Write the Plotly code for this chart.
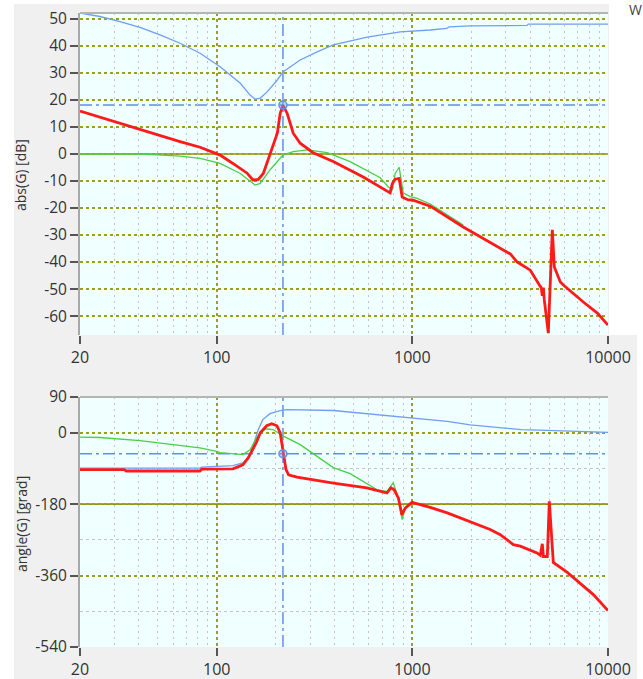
import plotly.graph_objects as go

# ---------------- data ----------------
# magnitude plot (dB)
f_mag_blue = [20, 25.3, 32, 40.5, 51.3, 64.9, 82.2, 104, 132, 148, 157, 167, 181, 204, 218, 267, 326, 394, 588, 867,
              1234, 1500, 1543, 1976, 3850, 3914, 10000]
mag_blue = [52.2, 50.9, 49.0, 46.9, 44.1, 41.0, 37.3, 32.3, 26.2, 21.8, 20.3, 20.7, 23.0, 27.4, 30.4, 34.8, 37.8, 40.4,
            43.3, 45.2, 45.9, 46.5, 47.1, 47.4, 47.6, 48.1, 48.1]

f_mag_red = [20, 25.3, 32, 40.5, 51.3, 64.9, 82.2, 104, 121, 143, 153, 163, 173, 187, 204, 211, 218, 229, 246, 267,
             311, 394, 561, 770, 789, 817, 856, 887, 952, 1000, 1234, 1820, 2224, 3167, 3438, 4007, 4508, 4560, 4615,
             4670, 4725, 4953, 5193, 5316, 5706, 5910, 7481, 8821, 10000]
mag_red = [15.9, 13.6, 11.4, 9.1, 6.8, 4.6, 2.5, -0.4, -3.5, -7.1, -9.6, -9.4, -7.2, 0.2, 7.7, 15.1, 18.1, 15.1, 7.7,
           4.0, 0.5, -2.8, -8.5, -14.4, -11.0, -9.3, -9.0, -15.9, -17.0, -17.0, -19.3, -27.0, -30.7, -37.0, -40.0,
           -43.0, -49.0, -49.5, -52.5, -49.5, -54.0, -66.3, -28.1, -41.8, -47.4, -48.5, -54.8, -58.9, -63.3]

f_mag_green = [20, 30, 40, 49.6, 65, 82.2, 104, 132, 148, 157, 167, 187, 218, 246, 290, 367, 481, 685, 752, 789, 817,
               856, 877, 898, 975, 1059, 1234, 1508, 1820]
mag_green = [0, 0, 0, -0.3, -0.8, -1.6, -3.5, -7.2, -10.2, -11.5, -10.9, -5.9, -0.4, 0.9, 1.5, 0.5, -2.8, -8.8,
             -12.1, -13.3, -7.2, -4.9, -9.6, -14.4, -15.8, -16.4, -18.5, -22.6, -26.3]

# phase plot (grad)
f_ph_blue = [20, 82, 84, 121, 136, 145, 153, 163, 172, 187, 211, 229, 394, 588, 685, 1000, 1234, 1508, 1976, 2814,
             3610, 4896, 7100, 10000]
ph_blue = [-89, -89, -86.5, -83, -76, -64, -34.5, 7.5, 33, 48, 55.5, 58, 56, 48, 45, 37, 33, 28.6, 20, 11.8, 7.6,
           5.9, 2.5, 0.8]

f_ph_red = [20, 33.6, 34.5, 82, 84, 121, 136, 145, 159, 167, 180, 191, 203, 211, 215, 221, 226, 233, 257, 395, 585,
            741, 776, 807, 849, 884, 919, 995, 1234, 1508, 2047, 2500, 2814, 3280, 3561, 4335, 4508, 4615, 4680,
            4896, 5011, 5254, 6194, 8414, 10000]
ph_red = [-93, -93, -96.5, -96.5, -92, -91, -81, -63, -26, 0, 17.6, 22.7, 17.6, 0, -26, -68, -93, -106, -112, -127,
          -139, -152, -139, -144, -165, -207, -190, -175.5, -188, -202, -228, -244, -257, -282, -286, -303, -309,
          -280, -312, -312, -173, -327, -352, -408, -448]

f_ph_green = [20, 25.3, 40.5, 82, 100, 104, 136, 148, 161, 177, 194, 218, 267, 394, 481, 661, 744, 798, 837, 887,
              919, 998, 1234, 1508]
ph_green = [-11, -12, -20, -38, -47, -50, -55, -43, -10, 10, 8, -8, -30, -88, -103, -144, -148, -126, -156, -219,
            -189, -176, -188, -202]

# cursor
cursor_f = 218
cursor_mag = 18.1
cursor_ph = -53

x_ticks = [20, 100, 1000, 10000]
x_ticktext = ["20", "100", "1000", "10000"]
x_minor = [30, 40, 50, 60, 70, 80, 90, 200, 300, 400, 500, 600, 700, 800, 900,
           2000, 3000, 4000, 5000, 6000, 7000, 8000, 9000]
mag_ticks = [50, 40, 30, 20, 10, 0, -10, -20, -30, -40, -50, -60]
mag_ticktext = ["50", "40", "30", "20", "10", "0", "-10", "-20", "-30", "-40", "-50", "-60"]
ph_ticks = [90, 0, -180, -360, -540]
ph_ticktext = ["90", "0", "-180", "-360", "-540"]
ph_minor = [-90, -270, -450]

# ---------------- style ----------------
BLUE = "#6f9ff0"
RED = "#ff1a1a"
GREEN = "#48d048"
OLIVE = "#9e9e1e"
OLIVE_SOLID = "#8f8f14"
CURSOR = "#5f8fea"
GRAYGRID = "#c4c4c4"
FONT = "Open Sans"

fig = go.Figure()

def add_curves(f_b, b, f_g, g, f_r, r, xa, ya):
    fig.add_trace(go.Scatter(x=f_b, y=b, mode="lines", line=dict(color=BLUE, width=1.3),
                             xaxis=xa, yaxis=ya, showlegend=False, hoverinfo="skip"))
    fig.add_trace(go.Scatter(x=f_g, y=g, mode="lines", line=dict(color=GREEN, width=1.3),
                             xaxis=xa, yaxis=ya, showlegend=False, hoverinfo="skip"))
    fig.add_trace(go.Scatter(x=f_r, y=r, mode="lines", line=dict(color=RED, width=2.8),
                             xaxis=xa, yaxis=ya, showlegend=False, hoverinfo="skip"))

add_curves(f_mag_blue, mag_blue, f_mag_green, mag_green, f_mag_red, mag_red, "x", "y")
add_curves(f_ph_blue, ph_blue, f_ph_green, ph_green, f_ph_red, ph_red, "x2", "y2")

# cursor markers
for xa, ya, yv in (("x", "y", cursor_mag), ("x2", "y2", cursor_ph)):
    fig.add_trace(go.Scatter(x=[cursor_f], y=[yv], mode="markers",
                             marker=dict(symbol="circle", size=8, color="rgba(120,160,240,0.45)",
                                         line=dict(color=CURSOR, width=1.5)),
                             xaxis=xa, yaxis=ya, showlegend=False, hoverinfo="skip"))

shapes = []
# solid olive reference lines
shapes.append(dict(type="line", xref="x domain", yref="y", x0=0, x1=1, y0=0, y1=0,
                   line=dict(color=OLIVE_SOLID, width=1.6), layer="below"))
shapes.append(dict(type="line", xref="x2 domain", yref="y2", x0=0, x1=1, y0=-180, y1=-180,
                   line=dict(color=OLIVE_SOLID, width=1.6), layer="below"))
# cursor lines
dd = "12px,4px,3px,4px"
shapes.append(dict(type="line", xref="x domain", yref="y", x0=0, x1=1, y0=cursor_mag, y1=cursor_mag,
                   line=dict(color=CURSOR, width=1.5, dash=dd), layer="below"))
shapes.append(dict(type="line", xref="x", yref="y domain", x0=cursor_f, x1=cursor_f, y0=0, y1=1,
                   line=dict(color=CURSOR, width=1.5, dash=dd), layer="below"))
shapes.append(dict(type="line", xref="x2 domain", yref="y2", x0=0, x1=1, y0=cursor_ph, y1=cursor_ph,
                   line=dict(color=CURSOR, width=1.5, dash=dd), layer="below"))
shapes.append(dict(type="line", xref="x2", yref="y2 domain", x0=cursor_f, x1=cursor_f, y0=0, y1=1,
                   line=dict(color=CURSOR, width=1.5, dash=dd), layer="below"))
# top borders of the plot areas
shapes.append(dict(type="line", xref="x domain", yref="y domain", x0=0, x1=1, y0=1, y1=1,
                   line=dict(color="#b4b4b4", width=2), layer="above"))
shapes.append(dict(type="line", xref="x2 domain", yref="y2 domain", x0=0, x1=1, y0=1, y1=1,
                   line=dict(color="#b4b4b4", width=2), layer="above"))

# white window-border areas (outside the plots)
W, H = 643, 679
L, R, T, B = 80, 35, 13, 32
PW, PH = W - L - R, H - T - B
def px(xp): return (xp - L) / PW
def py(yp): return (H - B - yp) / PH
for (x0, y0, x1, y1) in [(0, 0, 14, H), (0, 0, W, 4), (609, 0, W, 335), (637, 335, W, H)]:
    shapes.append(dict(type="rect", xref="paper", yref="paper", x0=px(x0), x1=px(x1), y0=py(y1), y1=py(y0),
                       fillcolor="white", line=dict(width=0), layer="above"))

annotations = [
    dict(text="abs(G) [dB]", xref="paper", yref="paper", x=px(21), y=py(175), textangle=-90,
         showarrow=False, font=dict(family=FONT, size=14, color="#333333"), xanchor="center", yanchor="middle"),
    dict(text="angle(G) [grad]", xref="paper", yref="paper", x=px(21), y=py(524), textangle=-90,
         showarrow=False, font=dict(family=FONT, size=14, color="#333333"), xanchor="center", yanchor="middle"),
    dict(text="W", xref="paper", yref="paper", x=px(627), y=py(9), showarrow=False,
         font=dict(family=FONT, size=14, color="#444444"), xanchor="left", yanchor="middle"),
]

xaxis_common = dict(
    type="log", range=[1.30103, 4.0], tickmode="array", tickvals=x_ticks, ticktext=x_ticktext,
    ticks="outside", ticklen=8, tickwidth=1.5, tickcolor="#555555",
    showgrid=True, gridcolor=OLIVE, griddash="3px,3px", gridwidth=1.6,
    showline=False, zeroline=False, automargin=False,
    tickfont=dict(family=FONT, size=16, color="#333333"),
    minor=dict(tickmode="array", tickvals=x_minor, showgrid=True, gridcolor=GRAYGRID,
               griddash="2px,4px", gridwidth=1.2, ticks=""),
)

yaxis_common = dict(
    tickmode="array", ticks="outside", ticklen=8, tickwidth=1.5, tickcolor="#555555",
    showgrid=True, gridcolor=OLIVE, griddash="3px,3px", gridwidth=1.6,
    showline=True, linecolor="#a8a8a8", linewidth=2, zeroline=False, automargin=False,
    tickfont=dict(family=FONT, size=15.5, color="#333333"),
)

fig.update_layout(
    width=W, height=H,
    margin=dict(l=L, r=R, t=T, b=B, autoexpand=False),
    paper_bgcolor="#f0f0f0", plot_bgcolor="#f0ffff",
    showlegend=False,
    xaxis=dict(anchor="y", domain=[0, 1], **xaxis_common),
    xaxis2=dict(anchor="y2", domain=[0, 1], **xaxis_common),
    yaxis=dict(anchor="x", domain=[py(335), 1], range=[-67.0, 52.2], tickvals=mag_ticks,
               ticktext=mag_ticktext, **yaxis_common),
    yaxis2=dict(anchor="x2", domain=[0, py(397)], range=[-540, 90], tickvals=ph_ticks, ticktext=ph_ticktext,
                minor=dict(tickmode="array", tickvals=ph_minor, showgrid=True, gridcolor=GRAYGRID,
                           griddash="3px,3px", gridwidth=1.2, ticks=""),
                **yaxis_common),
    shapes=shapes,
    annotations=annotations,
)

fig.write_html("out.html")
